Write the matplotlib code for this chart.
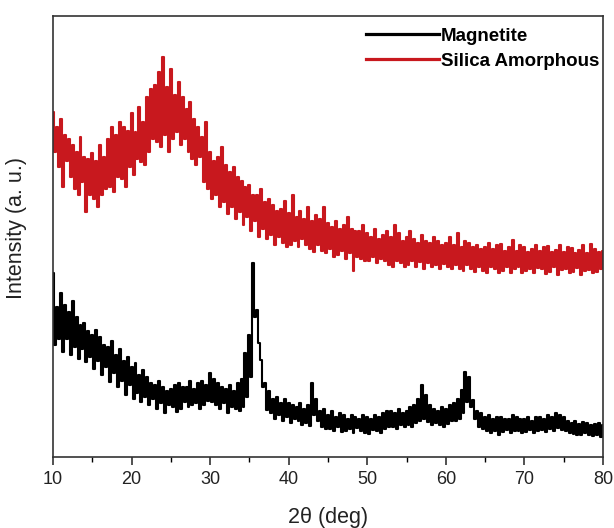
import numpy as np
import matplotlib
matplotlib.use("Agg")
import matplotlib.pyplot as plt
from matplotlib.ticker import MultipleLocator

plt.rcParams['font.family'] = ['Liberation Sans', 'DejaVu Sans']

# 2theta grid: 10 to 80 deg, step 0.25
two_theta = np.arange(0, 281) * 0.25 + 10.0

silica = [
    345, 305, 330, 290,  338, 270, 322, 296,  318, 280, 312, 268,  305, 262, 320, 275,
    300, 245, 298, 262,  304, 258, 296, 250,  312, 262, 300, 268,  318, 270, 330, 265,
    322, 280, 335, 278,  330, 270, 326, 290,  344, 282, 325, 298,  350, 295, 335, 292,
    360, 305, 368, 318,  372, 315, 385, 310,  400, 322, 370, 305,  388, 318, 362, 325,
    375, 312, 360, 318,  348, 305, 355, 298,  338, 292, 330, 300,  320, 275, 335, 268,
    305, 258, 296, 262,  300, 250, 310, 255,  292, 243, 285, 250,  290, 238, 280, 245,
    276, 232, 270, 240,  272, 226, 262, 236,  262, 220, 268, 228,  255, 218, 258, 222,
    252, 212, 246, 220,  248, 214, 256, 210,  244, 212, 262, 216,  240, 210, 246, 218,
    238, 212, 250, 208,  236, 205, 242, 212,  238, 206, 250, 204,  234, 208, 230, 200,
    236, 202, 228, 206,  232, 198, 240, 204,  228, 186, 226, 200,  226, 198, 232, 196,
    224, 196, 220, 200,  228, 194, 218, 198,  222, 196, 226, 192,  220, 190, 232, 196,
    224, 194, 216, 190,  220, 192, 226, 196,  218, 190, 214, 195,  222, 188, 216, 194,
    214, 190, 220, 192,  216, 188, 212, 193,  214, 190, 220, 188,  212, 192, 224, 188,
    210, 186, 216, 192,  214, 188, 210, 185,  212, 190, 208, 186,  210, 184, 214, 190,
    208, 188, 212, 184,  213, 186, 206, 190,  210, 184, 217, 188,  206, 190, 212, 184,
    210, 186, 205, 188,  208, 184, 212, 189,  206, 188, 210, 183,  211, 185, 205, 190,
    207, 182, 212, 187,  205, 188, 210, 184,  209, 185, 204, 189,  207, 182, 212, 186,
    204, 187, 213, 184,  208, 185, 205, 188,  206,
]

magnetite = [
    184, 112, 150, 118,  164, 105, 152, 118,  145, 102, 156, 110,  140, 98, 132, 108,
    134, 95, 126, 100,   122, 88, 127, 96,    120, 82, 112, 90,    110, 75, 116, 84,
    102, 70, 108, 76,    96, 62, 100, 72,     90, 58, 94, 64,      82, 55, 87, 60,
    80, 52, 74, 58,      72, 48, 76, 54,      70, 44, 66, 52,      68, 50, 72, 45,
    74, 48, 70, 55,      70, 50, 76, 52,      68, 54, 74, 48,      76, 52, 72, 56,
    84, 55, 78, 52,      74, 48, 70, 54,      68, 44, 72, 50,      66, 48, 74, 46,
    78, 50, 104, 60,     122, 80, 194, 140,   147, 114, 97, 70,    74, 47, 66, 44,
    58, 38, 60, 42,      54, 36, 58, 40,      54, 34, 52, 38,      50, 36, 54, 32,
    48, 34, 52, 31,      74, 42, 58, 36,      46, 30, 48, 28,      42, 28, 46, 26,
    40, 30, 44, 25,      42, 26, 38, 28,      42, 24, 40, 29,      38, 26, 42, 24,
    40, 23, 38, 27,      42, 26, 40, 24,      44, 28, 46, 30,      46, 30, 44, 28,
    48, 32, 44, 30,      46, 32, 50, 30,      52, 34, 58, 36,      72, 38, 62, 35,
    52, 32, 48, 34,      46, 32, 50, 30,      48, 33, 52, 36,      54, 36, 58, 38,
    67, 44, 85, 55,      80, 50, 57, 38,      46, 30, 44, 28,      40, 26, 42, 24,
    38, 26, 40, 22,      40, 25, 38, 27,      38, 24, 42, 26,      40, 26, 38, 24,
    38, 25, 40, 27,      36, 24, 40, 26,      40, 27, 38, 25,      42, 28, 40, 26,
    44, 29, 42, 27,      40, 26, 36, 24,      34, 23, 36, 22,      33, 22, 35, 24,
    34, 22, 32, 21,      33, 22, 34, 20,      32,
]

series_names = ["Magnetite", "Silica Amorphous"]
series_colors = ["#000000", "#C8181E"]
x_ticks = [10, 20, 30, 40, 50, 60, 70, 80]

fig = plt.figure(figsize=(6.14, 5.28), dpi=100)
ax = fig.add_axes([0.0863, 0.1345, 0.8957, 0.8355])

ax.plot(two_theta, magnetite, color=series_colors[0], lw=1.5,
        drawstyle='steps-mid', label=series_names[0])
ax.plot(two_theta, silica, color=series_colors[1], lw=1.5,
        drawstyle='steps-mid', label=series_names[1])

ax.set_xlim(10, 80)
ax.set_ylim(0, 441)
ax.set_xticks(x_ticks)
ax.xaxis.set_minor_locator(MultipleLocator(5))
ax.set_yticks([])
ax.tick_params(axis='x', which='major', direction='out', length=6, width=1.1,
               labelsize=13, colors='#222222', pad=4)
ax.tick_params(axis='x', which='minor', direction='out', length=3.5, width=1.0)
for s in ax.spines.values():
    s.set_linewidth(1.2)
    s.set_color('#333333')

ax.set_xlabel("2θ (deg)", fontsize=15.5, color='#222222', labelpad=14)
ax.set_ylabel("Intensity (a. u.)", fontsize=15.5, color='#222222')
ax.yaxis.set_label_coords(-0.047, 0.52)

leg = ax.legend(loc='upper right', bbox_to_anchor=(0.993, 0.973), frameon=False,
                borderpad=0, borderaxespad=0,
                handlelength=3.9, handletextpad=0.1, labelspacing=0.4,
                prop={'weight': 'bold', 'size': 13.5})
for line in leg.get_lines():
    line.set_linewidth(2.3)

fig.savefig("out.png", dpi=100)
